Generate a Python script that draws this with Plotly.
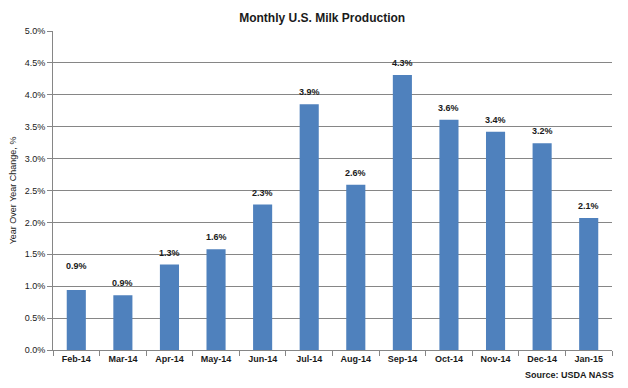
import plotly.graph_objects as go

months = ["Feb-14", "Mar-14", "Apr-14", "May-14", "Jun-14", "Jul-14",
          "Aug-14", "Sep-14", "Oct-14", "Nov-14", "Dec-14", "Jan-15"]
yoy_change = [0.94, 0.86, 1.34, 1.58, 2.28, 3.85, 2.59, 4.31, 3.61, 3.42, 3.24, 2.07]
bar_labels = ["0.9%", "0.9%", "1.3%", "1.6%", "2.3%", "3.9%",
              "2.6%", "4.3%", "3.6%", "3.4%", "3.2%", "2.1%"]
y_ticks = [0.0, 0.5, 1.0, 1.5, 2.0, 2.5, 3.0, 3.5, 4.0, 4.5, 5.0]
y_tick_labels = [f"{v:.1f}%" for v in y_ticks]

FONT = "Liberation Sans"
TXT = "#1a1a1a"

fig = go.Figure(go.Bar(
    x=months, y=yoy_change,
    marker=dict(color="#4F81BD", line=dict(width=0)),
    width=0.41,
))

# data labels above bars (first label sits a little higher in the reference)
label_annots = []
for i, (m, v, t) in enumerate(zip(months, yoy_change, bar_labels)):
    label_annots.append(dict(
        x=m, y=v, xref="x", yref="y", text=f"<b>{t}</b>", showarrow=False,
        yanchor="middle", yshift=24 if i == 0 else 12,
        font=dict(family=FONT, size=9, color=TXT),
    ))

fig.update_layout(
    width=628, height=388,
    margin=dict(l=53, r=16, t=31, b=38, autoexpand=False),
    paper_bgcolor="white", plot_bgcolor="white",
    showlegend=False,
    title=dict(text="<b>Monthly U.S. Milk Production</b>", x=0.513, xanchor="center",
               y=0.953, yanchor="middle",
               font=dict(family=FONT, size=12, color=TXT)),
    xaxis=dict(
        type="category", showline=True, linecolor="#868686", linewidth=1,
        ticks="outside", tickson="boundaries", ticklen=5, tickcolor="#868686",
        tickfont=dict(family=FONT, size=9, color=TXT, weight="bold"),
        showgrid=False,
    ),
    yaxis=dict(
        range=[0, 5.0], tickvals=y_ticks, ticktext=y_tick_labels,
        showline=True, linecolor="#868686", linewidth=1,
        ticks="outside", ticklen=5, tickcolor="#868686",
        showgrid=True, gridcolor="#868686", gridwidth=1,
        zeroline=False,
        tickfont=dict(family=FONT, size=9, color=TXT),
        title=dict(text="Year Over Year Change, %", standoff=6,
                   font=dict(family=FONT, size=9, color=TXT)),
    ),
    annotations=label_annots + [dict(
        text="<b>Source: USDA NASS</b>", xref="paper", yref="paper",
        x=1.008, y=-0.078, xanchor="right", yanchor="middle", showarrow=False,
        font=dict(family=FONT, size=9, color=TXT),
    )],
)

fig.write_html("out.html", config={"displayModeBar": False},
               post_script="document.body.style.margin='0';")
